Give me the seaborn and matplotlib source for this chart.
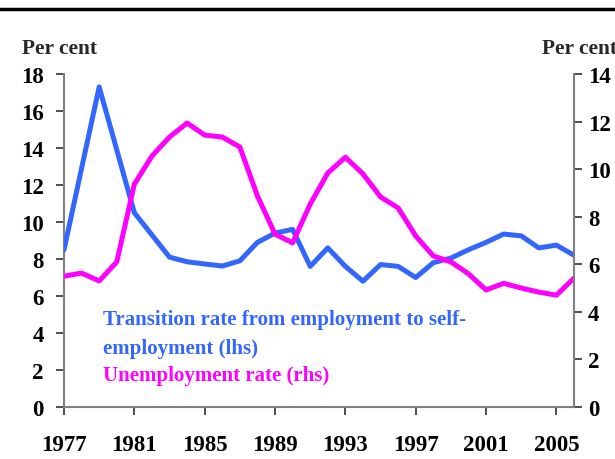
import matplotlib
matplotlib.use("Agg")
import matplotlib.pyplot as plt
import seaborn as sns
import pandas as pd
from matplotlib.lines import Line2D

years = list(range(1977, 2007))
transition_rate = [8.5, 12.9, 17.3, 13.9, 10.5, 9.3, 8.1, 7.85, 7.73, 7.62, 7.9, 8.9, 9.4, 9.6,
                   7.6, 8.6, 7.6, 6.8, 7.7, 7.6, 7.0, 7.8, 8.05, 8.5, 8.9, 9.35, 9.25, 8.6, 8.75, 8.2]
unemployment_rate = [5.5, 5.63, 5.3, 6.1, 9.37, 10.55, 11.35, 11.94, 11.43, 11.35, 10.93, 8.87, 7.27, 6.9,
                     8.53, 9.84, 10.5, 9.8, 8.83, 8.37, 7.19, 6.35, 6.1, 5.6, 4.92, 5.2, 5.0, 4.83, 4.7, 5.42]
x_ticks = [1977, 1981, 1985, 1989, 1993, 1997, 2001, 2005]
left_ticks = [0, 2, 4, 6, 8, 10, 12, 14, 16, 18]
right_ticks = [0, 2, 4, 6, 8, 10, 12, 14]

df = pd.DataFrame({"year": years, "trans": transition_rate, "unemp": unemployment_rate})

sns.set_theme(style="white")
plt.rcParams["font.family"] = ["Liberation Serif", "DejaVu Serif"]
plt.rcParams["font.weight"] = "bold"

BLUE = "#3366FF"
MAG = "#FF00FF"
GREY = "#808080"

fig = plt.figure(figsize=(6.15, 4.6), dpi=100)
ax = fig.add_axes([64/615, 1-408/460, 510/615, 333/460])
ax2 = ax.twinx()

sns.lineplot(data=df, x="year", y="trans", ax=ax, color=BLUE, linewidth=3.6, zorder=3)
sns.lineplot(data=df, x="year", y="unemp", ax=ax2, color=MAG, linewidth=3.6, zorder=2)

ax.set_xlim(1977, 2006)
ax.set_ylim(0, 18)
ax2.set_ylim(0, 14)
ax.set_xticks(x_ticks)
ax.set_yticks(left_ticks)
ax2.set_yticks(right_ticks)
ax.minorticks_off()
ax2.minorticks_off()
ax.set_xlabel("")
ax.set_ylabel("")
ax2.set_ylabel("")

for a in (ax, ax2):
    for s in a.spines.values():
        s.set_color(GREY)
        s.set_linewidth(1.5)
    a.spines["top"].set_visible(False)
    a.grid(False)
ax.spines["right"].set_visible(False)
ax2.spines["left"].set_visible(False)
ax2.spines["bottom"].set_visible(False)

ax.tick_params(axis="x", direction="out", length=6, width=1.3, color="#404040",
               pad=13.5, labelsize=16.5, bottom=True, top=False)
ax.tick_params(axis="y", direction="out", length=6, width=1.3, color="#404040",
               pad=8.5, labelsize=16.5, left=True, right=False)
ax2.tick_params(axis="y", direction="out", length=6, width=1.3, color="#404040",
                pad=4, labelsize=16.5, right=True, left=False)
ax2.tick_params(axis="x", bottom=False, top=False, labelbottom=False)
for lab in ax.get_xticklabels() + ax.get_yticklabels() + ax2.get_yticklabels():
    lab.set_fontweight("bold")
    lab.set_color("black")

fig.text(22/615, 1-49/460, "Per cent", fontsize=15.4, fontweight="bold", ha="left", va="center")
fig.text(542/615, 1-49/460, "Per cent", fontsize=15.4, fontweight="bold", ha="left", va="center")

ax.text(0.0765, 0.264, "Transition rate from employment to self-", transform=ax.transAxes,
        color=BLUE, fontsize=15, fontweight="bold", ha="left", va="center")
ax.text(0.0765, 0.177, "employment (lhs)", transform=ax.transAxes,
        color=BLUE, fontsize=15, fontweight="bold", ha="left", va="center")
ax.text(0.0765, 0.096, "Unemployment rate (rhs)", transform=ax.transAxes,
        color=MAG, fontsize=15, fontweight="bold", ha="left", va="center")

fig.add_artist(Line2D([0, 1], [1-10/460, 1-10/460], color="black", linewidth=2.5,
                      transform=fig.transFigure))

fig.savefig("out.png", dpi=100)
